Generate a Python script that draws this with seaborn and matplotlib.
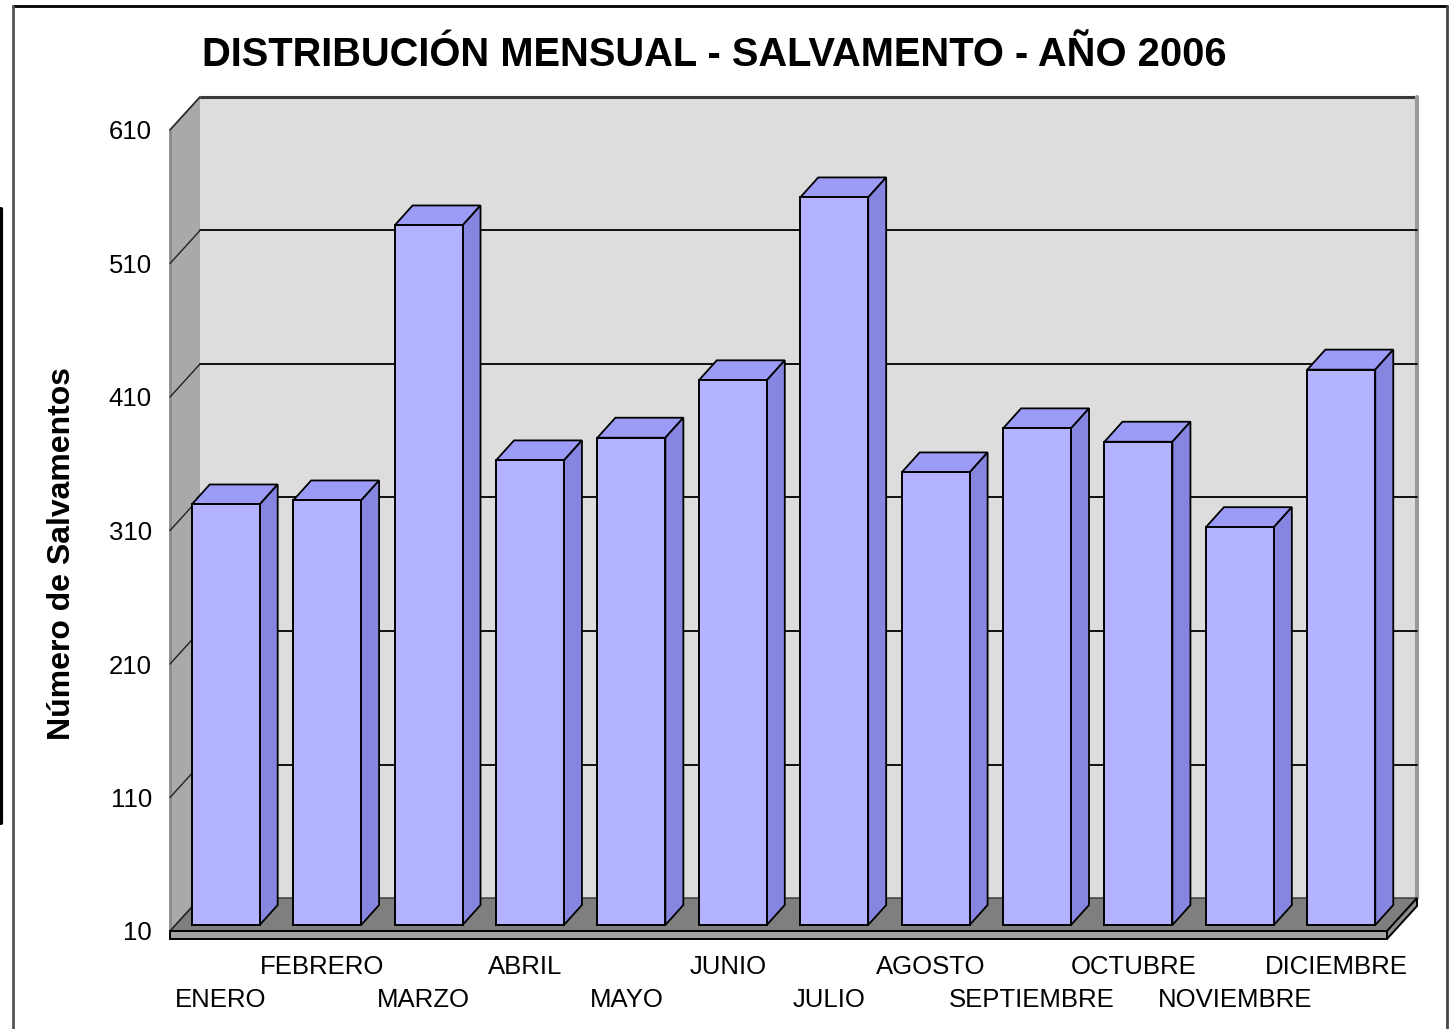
import numpy as np
import pandas as pd
import matplotlib
matplotlib.use('Agg')
import matplotlib.pyplot as plt
from matplotlib.patches import Polygon
from matplotlib.lines import Line2D
from matplotlib.transforms import ScaledTranslation, IdentityTransform
import seaborn as sns

# ─── DATA ─────────────────────────────────────────────────────────────────────
MONTHS = ['ENERO', 'FEBRERO', 'MARZO', 'ABRIL', 'MAYO', 'JUNIO', 'JULIO',
          'AGOSTO', 'SEPTIEMBRE', 'OCTUBRE', 'NOVIEMBRE', 'DICIEMBRE']
SALVAMENTOS = [325, 328, 534, 358, 375, 418, 555, 349, 382, 372, 308, 426]
Y_TICKS = [10, 110, 210, 310, 410, 510, 610]

TITLE = 'DISTRIBUCIÓN MENSUAL - SALVAMENTO - AÑO 2006'
YLABEL = 'Número de Salvamentos'

# ─── LAYOUT (pixels) ──────────────────────────────────────────────────────────
W, H, DPI = 1452, 1029, 100
X0, X1, YB, YT = 170, 1387, 931, 130      # front plane of the 3D box
WALL = (30, 33)                            # depth offset of back wall
BAR_FRONT = (5, 6)                         # depth offset of bar front faces
BAR_DEPTH = (18, 20)                       # bar depth

FRONT_C = '#B3B3FF'
TOP_C = '#9C9CF6'
SIDE_C = '#8686E0'

sns.set_style('white')
plt.rcParams['font.family'] = ['Liberation Sans', 'DejaVu Sans']
plt.rcParams['text.color'] = 'black'

fig = plt.figure(figsize=(W / DPI, H / DPI), dpi=DPI)
ax = fig.add_axes([X0 / W, 1 - YB / H, (X1 - X0) / W, (YB - YT) / H])

df = pd.DataFrame({'mes': MONTHS, 'n': SALVAMENTOS})
sns.barplot(data=df, x='mes', y='n', color=FRONT_C, saturation=1, width=0.67,
            edgecolor='black', linewidth=1.4, ax=ax, zorder=5)

ax.set_xlim(-0.5, len(MONTHS) - 0.5)
ax.set_ylim(Y_TICKS[0], Y_TICKS[-1])
for s in ax.spines.values():
    s.set_visible(False)
ax.patch.set_visible(False)

ident = IdentityTransform()


def disp(x, y, off=(0, 0)):
    p = ax.transData.transform((x, y))
    return (p[0] + off[0], p[1] + off[1])


def add(pts, fc, ec='none', lw=0, z=1):
    ax.add_patch(Polygon(pts, closed=True, facecolor=fc, edgecolor=ec, linewidth=lw,
                         transform=ident, clip_on=False, zorder=z))


def line(p, q, color='black', lw=1.2, z=2):
    ax.add_line(Line2D([p[0], q[0]], [p[1], q[1]], color=color, linewidth=lw,
                       transform=ident, clip_on=False, zorder=z))


xa, xb = ax.get_xlim()
ylo, yhi = Y_TICKS[0], Y_TICKS[-1]

# back wall
add([disp(xa, ylo, WALL), disp(xb, ylo, WALL), disp(xb, yhi, WALL), disp(xa, yhi, WALL)],
    '#DDDDDD', z=0.5)
line(disp(xa, yhi, WALL), disp(xb, yhi, WALL), color='#3a3a3a', lw=2.2, z=0.6)
line(disp(xb, ylo, WALL), disp(xb, yhi, WALL), color='#9a9a9a', lw=3, z=0.6)

# left wall
add([disp(xa, ylo), disp(xa, yhi), disp(xa, yhi, WALL), disp(xa, ylo, WALL)],
    '#A9A9A9', z=0.5)
line(disp(xa, ylo), disp(xa, yhi), color='#8a8a8a', lw=2, z=0.6)
line(disp(xa, yhi), disp(xa, yhi, WALL), color='#8a8a8a', lw=1.5, z=0.6)

# grid lines on walls
for v in Y_TICKS[1:-1]:
    line(disp(xa, v, WALL), disp(xb, v, WALL), lw=1.3, z=0.7)
for v in Y_TICKS[1:]:
    line(disp(xa, v), disp(xa, v, WALL), color='#222222', lw=1.0, z=0.7)

# floor
STRIP = 8
add([disp(xa, ylo), disp(xb, ylo), disp(xb, ylo, WALL), disp(xa, ylo, WALL)],
    '#7F7F7F', '#333333', 1.0, z=1)
line(disp(xa, ylo), disp(xa, ylo, WALL), color='#222222', lw=1.0, z=1.1)
add([disp(xa, ylo, (0, -STRIP)), disp(xb, ylo, (0, -STRIP)), disp(xb, ylo), disp(xa, ylo)],
    '#A3A3A3', 'black', 1.4, z=1.2)
add([disp(xb, ylo, (0, -STRIP)), disp(xb, ylo), disp(xb, ylo, WALL),
     disp(xb, ylo, (WALL[0], WALL[1] - STRIP))],
    '#8C8C8C', 'black', 1.4, z=1.2)

# bars: start at axis minimum, shift front face into depth, add top and side faces
shift = ScaledTranslation(BAR_FRONT[0] / DPI, BAR_FRONT[1] / DPI, fig.dpi_scale_trans)
back = (BAR_FRONT[0] + BAR_DEPTH[0], BAR_FRONT[1] + BAR_DEPTH[1])
for p in list(ax.patches[:len(MONTHS)]):
    top_v = p.get_y() + p.get_height()
    p.set_y(ylo)
    p.set_height(top_v - ylo)
    p.set_transform(ax.transData + shift)
    p.set_clip_on(False)
    l, r = p.get_x(), p.get_x() + p.get_width()
    add([disp(l, top_v, BAR_FRONT), disp(r, top_v, BAR_FRONT),
         disp(r, top_v, back), disp(l, top_v, back)], TOP_C, 'black', 1.3, z=4)
    add([disp(r, ylo, BAR_FRONT), disp(r, top_v, BAR_FRONT),
         disp(r, top_v, back), disp(r, ylo, back)], SIDE_C, 'black', 1.3, z=4)

# ticks (month labels staggered on two rows)
ax.set_yticks(Y_TICKS)
ax.set_yticklabels([str(v) for v in Y_TICKS])
ax.set_xticks(range(len(MONTHS)))
ax.set_xticklabels(MONTHS)
ax.tick_params(axis='y', length=0, pad=13, labelsize=18.5, labelcolor='black')
ax.tick_params(axis='x', length=0, pad=17, labelsize=18.5, labelcolor='black')
for i, t in enumerate(ax.xaxis.get_major_ticks()):
    if i % 2 == 0:
        t.set_pad(17 + 24)
ax.set_xlabel('')
ax.set_ylabel('')

# texts
fig.text(714.5 / W, 1 - 66 / H, TITLE, ha='center', va='baseline',
         fontsize=28.7, fontweight='bold', color='black')
fig.text(62 / W, 1 - 554 / H, YLABEL, ha='center', va='center', rotation=90,
         fontsize=23, fontweight='bold', color='black')

# outer frame
def fline(x0, y0, x1, y1, color, lw):
    fig.add_artist(Line2D([x0, x1], [H - y0, H - y1], color=color, linewidth=lw,
                          transform=ident))


fline(13, 6, 1447, 6, 'black', 2)
fline(13, 6, 13, H, '#555555', 2)
fline(1447, 6, 1447, H, '#444444', 2)
fline(1, 209, 1, 823, 'black', 3)

plt.savefig('out.png', dpi=DPI)
plt.close()
